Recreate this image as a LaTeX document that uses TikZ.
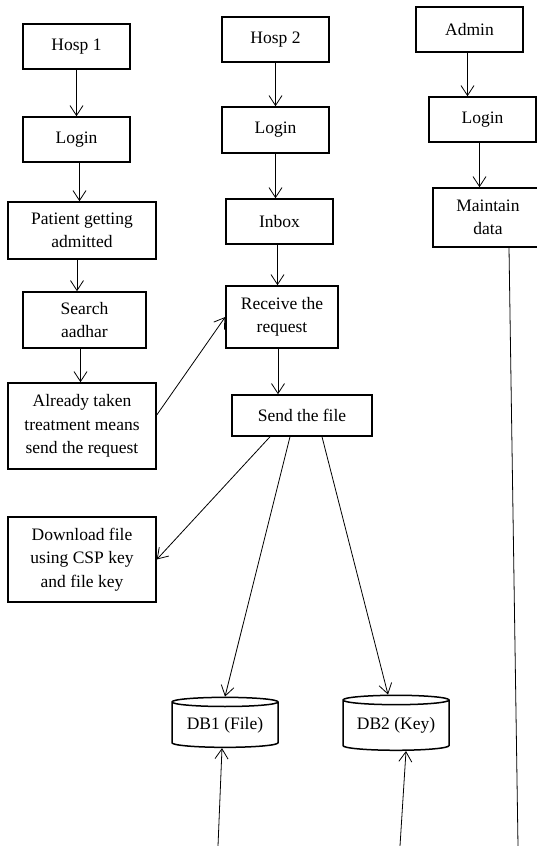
\documentclass[tikz,border=0pt]{standalone}
\usepackage{fontspec}
\setmainfont{Liberation Serif}
\usetikzlibrary{arrows.meta,shapes.geometric}
\tikzset{
  box/.style={draw, line width=1.5pt, align=center, inner sep=0pt},
  dbase/.style={draw, line width=1.5pt, cylinder, shape border rotate=90, aspect=0.12,
    minimum width=106pt, minimum height=50pt, inner sep=0pt},
  arr/.style={-{Straight Barb[length=10pt,width=13pt]}, line width=0.8pt}
}
\begin{document}
\begin{tikzpicture}[x=1pt, y=-1pt, font=\fontsize{17.5}{23.5}\selectfont]
        \clip (0,0) rectangle (537,846);
        % hospital 1
        \begin{scope}
            \node[box, minimum width=107pt, minimum height=45pt] (hospA) at (76.5,46.5) {Hosp 1};
            \node[box, minimum width=107pt, minimum height=45pt] (loginA) at (76.5,139.5) {Login};
            \node[box, minimum width=148pt, minimum height=57pt] (admitA) at (82,230.5) {Patient getting\\admitted};
            \node[box, minimum width=123pt, minimum height=56pt] (searchA) at (84.5,320) {Search\\aadhar};
            \node[box, minimum width=148pt, minimum height=86pt] (takenA) at (82,426) {Already taken\\treatment means\\send the request};
            \node[box, minimum width=148pt, minimum height=85pt] (download) at (82,559.5) {Download file\\using CSP key\\and file key};
            \draw[arr] (hospA.south) -- (hospA.south |- loginA.north);
            \draw[arr] ([xshift=3pt]loginA.south) -- ([xshift=3pt]loginA.south |- admitA.north);
            \draw[arr] ([xshift=-5pt]admitA.south) -- ([xshift=-5pt]admitA.south |- searchA.north);
            \draw[arr] ([xshift=-4pt]searchA.south) -- ([xshift=-4pt]searchA.south |- takenA.north);
        \end{scope}
        % hospital 2
        \begin{scope}
            \node[box, minimum width=107pt, minimum height=45pt] (hospB) at (275.5,39.5) {Hosp 2};
            \node[box, minimum width=107pt, minimum height=46pt] (loginB) at (275.5,130) {Login};
            \node[box, minimum width=107pt, minimum height=45pt] (inbox) at (279.5,221.5) {Inbox};
            \node[box, minimum width=112pt, minimum height=62pt] (receive) at (282,317) {Receive the\\request};
            \node[box, minimum width=140pt, minimum height=41pt] (sendfile) at (302,415.5) {Send the file};
            \draw[arr] (hospB.south) -- (hospB.south |- loginB.north);
            \draw[arr] (loginB.south) -- (loginB.south |- inbox.north);
            \draw[arr] ([xshift=-2pt]inbox.south) -- ([xshift=-2pt]inbox.south |- receive.north);
            \draw[arr] ([xshift=-4pt]receive.south) -- ([xshift=-4pt]receive.south |- sendfile.north);
        \end{scope}
        % admin
        \begin{scope}
            \node[box, minimum width=107pt, minimum height=45pt] (admin) at (469.5,29.5) {Admin};
            \node[box, minimum width=107pt, minimum height=45pt] (loginC) at (482.5,119.5) {Login};
            \node[box, minimum width=110pt, minimum height=59pt] (maintain) at (488,217.5) {Maintain\\data};
            \draw[arr] ([xshift=-2pt]admin.south) -- ([xshift=-2pt]admin.south |- loginC.north);
            \draw[arr] ([xshift=-3pt]loginC.south) -- ([xshift=-3pt]loginC.south |- maintain.north);
        \end{scope}
        % databases
        \node[dbase] (dbA) at (225,725) {DB1 (File)};
        \node[dbase, minimum height=55pt] (dbB) at (396,725.5) {DB2 (Key)};
        \coordinate (inA) at (218,846);
        \coordinate (inB) at (400,846);
        \coordinate (outC) at (518,846);
        \draw[arr] ([yshift=11pt]takenA.east) -- (receive.west);
        \draw[arr] ([xshift=-32pt]sendfile.south) -- (download.east);
        \draw[arr] ([xshift=-12pt]sendfile.south) -- (dbA.north);
        \draw[arr] ([xshift=20pt]sendfile.south) -- ([xshift=-8pt]dbB.north);
        \draw[arr] (inA) -- ([xshift=-3pt]dbA.south);
        \draw[arr] (inB) -- ([xshift=10pt]dbB.south);
        \draw[line width=0.8pt] ([xshift=21pt]maintain.south) -- (outC);
\end{tikzpicture}
\end{document}
